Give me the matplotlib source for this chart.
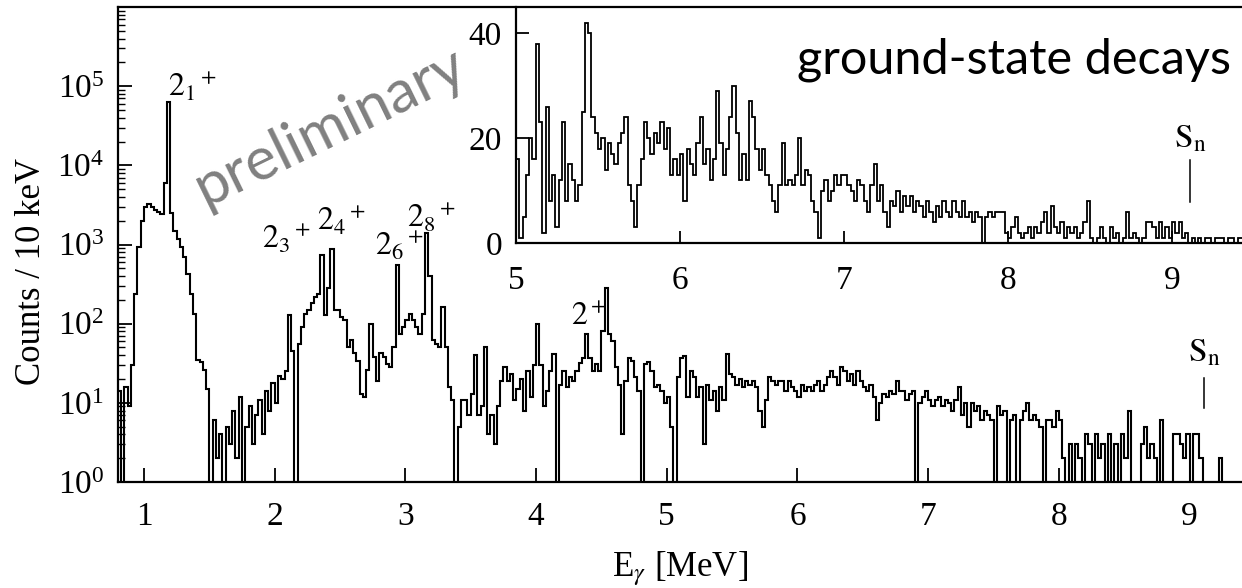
import numpy as np
import matplotlib.pyplot as plt
from matplotlib.ticker import FixedLocator, LogLocator

plt.rcParams['font.family'] = ['Liberation Serif', 'DejaVu Serif']
plt.rcParams['mathtext.fontset'] = 'stix'

# %% data: main spectrum, 25 keV bins from 0.80 MeV (one row = 0.25 MeV)
main_start, main_width = 0.80, 0.025
main_counts = [
    14, 0, 16, 9, 30, 240, 930, 2000, 2950, 3250,
    3000, 2700, 2550, 2450, 6000, 64000, 2500, 1500, 1180, 930,
    690, 430, 240, 134, 35, 33, 26, 15, 0, 6,
    2, 4, 0, 5, 3, 8, 2, 12, 0, 5,
    9, 3, 7, 11, 4, 14, 8, 18, 10, 22,
    20, 25, 130, 45, 0, 56, 90, 134, 148, 180,
    217, 240, 740, 130, 280, 880, 148, 150, 121, 110,
    51, 62, 42, 34, 13, 12, 26, 100, 38, 19,
    42, 38, 31, 28, 51, 550, 75, 90, 110, 134,
    110, 90, 75, 134, 1400, 400, 62, 56, 51, 163,
    51, 16, 11, 0, 5, 11, 11, 7, 13, 40,
    7, 9, 51, 4, 7, 3, 9, 19, 28, 19,
    23, 11, 15, 20, 8, 25, 12, 30, 100, 30,
    9, 14, 25, 41, 0, 17, 25, 16, 21, 19,
    25, 32, 37, 74, 37, 25, 31, 25, 81, 280,
    74, 60, 28, 17, 4, 19, 37, 34, 21, 14,
    0, 31, 33, 25, 16, 17, 14, 10, 12, 5,
    0, 21, 37, 39, 12, 25, 21, 12, 16, 3,
    17, 11, 14, 8, 16, 11, 41, 23, 21, 17,
    20, 16, 19, 17, 19, 16, 8, 5, 11, 21,
    19, 17, 19, 19, 14, 19, 16, 14, 12, 17,
    14, 16, 14, 17, 19, 14, 17, 21, 25, 21,
    17, 28, 25, 19, 23, 17, 25, 19, 16, 14,
    17, 12, 6, 10, 13, 12, 14, 13, 19, 14,
    14, 11, 13, 14, 0, 10, 12, 14, 11, 9,
    11, 12, 9, 11, 10, 8, 11, 16, 7, 10,
    5, 10, 8, 9, 6, 8, 7, 6, 0, 9,
    7, 8, 0, 6, 7, 0, 6, 8, 10, 6,
    7, 6, 5, 0, 6, 6, 5, 8, 6, 2,
    0, 3, 1, 3, 2, 0, 4, 3, 0, 4,
    2, 3, 1, 4, 0, 3, 0, 4, 2, 8,
    0, 0, 0, 3, 5, 2, 3, 2, 0, 6,
    0, 0, 0, 4, 4, 3, 2, 4, 1, 4,
    4, 2, 0, 0, 0, 0, 0, 2, 0, 0,
    0, 0, 0, 0,
]

# %% data: ground-state decays, 20 keV bins from 5.00 MeV (one row = 0.2 MeV)
inset_start, inset_width = 5.00, 0.02
inset_counts = [
    16, 1, 5, 13, 20, 16, 38, 23, 2, 26,
    8, 13, 3, 12, 23, 8, 15, 12, 8, 11,
    25, 42, 40, 24, 21, 18, 20, 14, 19, 17,
    15, 19, 21, 24, 11, 8, 3, 11, 16, 23,
    20, 17, 21, 19, 23, 18, 22, 13, 16, 13,
    17, 8, 18, 15, 13, 19, 24, 15, 18, 12,
    16, 29, 19, 13, 18, 24, 30, 21, 12, 17,
    12, 27, 24, 18, 14, 18, 13, 11, 8, 6,
    11, 19, 11, 12, 11, 13, 20, 11, 14, 13,
    8, 6, 1, 10, 12, 8, 10, 13, 11, 13,
    13, 11, 10, 8, 12, 11, 8, 6, 11, 15,
    8, 11, 6, 3, 8, 7, 10, 6, 9, 7,
    9, 6, 8, 7, 5, 8, 6, 4, 7, 5,
    8, 6, 5, 8, 6, 5, 8, 5, 6, 4,
    6, 5, 0, 5, 6, 5, 6, 6, 6, 2,
    1, 3, 5, 2, 1, 2, 3, 1, 3, 2,
    4, 6, 2, 7, 3, 2, 4, 1, 3, 2,
    3, 1, 2, 4, 8, 1, 0, 1, 3, 1,
    0, 3, 1, 2, 0, 1, 6, 1, 2, 1,
    0, 1, 4, 4, 3, 1, 4, 1, 3, 1,
    4, 2, 4, 1, 2, 0, 1, 0, 1, 0,
    1, 1, 0, 1, 1, 1, 0, 1, 1, 0, 1, 1,
]

S_n = 9.11  # MeV

main_edges = main_start + main_width * np.arange(len(main_counts) + 1)
inset_edges = inset_start + inset_width * np.arange(len(inset_counts) + 1)

# %% figure
W, H = 1242, 588
fig = plt.figure(figsize=(W / 100, H / 100), dpi=100)

ax = fig.add_axes([118 / W, 1 - 482 / H, (W - 118) / W, (482 - 7) / H])
ax.set_yscale('log', nonpositive='clip')
ax.stairs(main_counts, main_edges, baseline=None, color='black', linewidth=1.5)
ax.set_xlim(0.801, 9.401)
ax.set_ylim(1, 1e6)
ax.set_xticks(range(1, 10))
ax.yaxis.set_major_locator(FixedLocator([1e0, 1e1, 1e2, 1e3, 1e4, 1e5]))
ax.yaxis.set_minor_locator(LogLocator(base=10, subs=np.arange(2, 10), numticks=20))
ax.spines['right'].set_visible(False)
for s in ['left', 'bottom', 'top']:
    ax.spines[s].set_linewidth(1.6)
ax.tick_params(which='both', direction='in', labelsize=24, right=False, top=False)
ax.tick_params(which='major', length=10, width=1.3)
ax.tick_params(which='minor', length=5, width=1.0)
ax.tick_params(axis='x', pad=14)
ax.tick_params(axis='y', pad=10)
ax.set_xlabel(r'E$_\gamma$ [MeV]', fontsize=25, labelpad=12)
ax.set_ylabel('Counts / 10 keV', fontsize=25)
ax.yaxis.set_label_coords(-0.062, 0.444)

label_kw = dict(fontsize=23, ha='left', va='baseline')
ax.text(1.18, 7.5e4, r'$\mathrm{2_1{}^+}$', **label_kw)
ax.text(1.9, 890, r'$\mathrm{2_3{}^+}$', **label_kw)
ax.text(2.32, 1510, r'$\mathrm{2_4{}^+}$', **label_kw)
ax.text(2.77, 730, r'$\mathrm{2_6{}^+}$', **label_kw)
ax.text(3.01, 1650, r'$\mathrm{2_8{}^+}$', **label_kw)
ax.text(4.27, 95, r'$\mathrm{2^+}$', **label_kw)
ax.text(S_n, 33, r'$\mathrm{S_n}$', fontsize=24, ha='center', va='baseline')
ax.plot([S_n, S_n], [8.5, 20.5], color='black', linewidth=1.1)

fig.text(330 / W, 1 - 127 / H, 'preliminary', rotation=26, color='#808080',
         fontsize=43, family='Lato', ha='center', va='center')

# %% inset
ins = fig.add_axes([516 / W, 1 - 243 / H, (W - 516) / W, (243 - 7) / H])
ins.patch.set_alpha(0)
ins.stairs(inset_counts, inset_edges, baseline=None, color='black', linewidth=1.3)
ins.set_xlim(5.0, 9.427)
ins.set_ylim(0, 45)
ins.set_xticks(range(5, 10))
ins.set_yticks([0, 20, 40])
ins.spines['right'].set_visible(False)
ins.spines['top'].set_visible(False)
for s in ['left', 'bottom']:
    ins.spines[s].set_linewidth(1.6)
ins.tick_params(direction='in', labelsize=24, length=9, width=1.3, right=False, top=False)
ins.tick_params(axis='x', pad=16)
ins.tick_params(axis='y', pad=10)
ins.text(S_n, 18.3, r'$\mathrm{S_n}$', fontsize=24, ha='center', va='baseline')
ins.plot([S_n, S_n], [7.8, 15.8], color='black', linewidth=1.1)
ins.text(0.985, 0.775, 'ground-state decays', transform=ins.transAxes, fontsize=35,
         family='Lato', ha='right', va='center')

fig.savefig('out.png', dpi=100)
